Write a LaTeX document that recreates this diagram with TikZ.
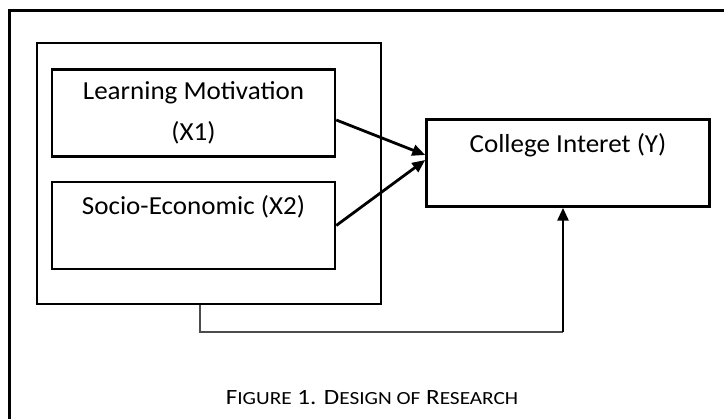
\documentclass[tikz,border=0pt]{standalone}
\usepackage{fontspec}
\setmainfont{Carlito}[FakeStretch=1.04]
\newfontfamily\captionfont{Carlito}[FakeStretch=1.15]
\usetikzlibrary{positioning, calc, arrows.meta}

\newcommand{\smallcap}[1]{{\fontsize{18.5}{22}\selectfont #1}}

\begin{document}
\begin{tikzpicture}[x=1pt, y=-1pt,
    varbox/.style={draw, line width=2.5pt, minimum width=283pt, minimum height=87pt,
        inner sep=0pt, align=center, font=\fontsize{26}{41}\selectfont},
    arrowline/.style={line width=2.8pt, -{Triangle[length=13pt, width=11pt]}},
    thinline/.style={line width=1.4pt, draw=black!70}]
    \useasboundingbox (0,0) rectangle (724,419);

    % --- Outer frame (cut off at right and bottom) ---
    \draw[line width=2.8pt] (9.5,419) |- (724,10.5);

    % --- Group box with the two variables ---
    \node[draw, line width=2.3pt, minimum width=344pt, minimum height=261pt] (grp) at (209,173.5) {};
    \node[varbox] (lm) at (193.5,113) {Learning Motivation\\(X1)};
    \node[varbox] (se) at (193.5,225.5) {Socio-Economic (X2)\\\mbox{}};

    % --- Dependent variable ---
    \node[varbox] (ci) at (568,163) {College Interet (Y)\\\mbox{}};

    % --- Arrows ---
    \draw[arrowline] ([yshift=-7pt]lm.east) -- ([yshift=8pt]ci.west);
    \draw[arrowline] (se.east) -- ([yshift=3pt]ci.west);

    % --- Joint path from the group box ---
    \coordinate (turn) at (563,332);
    \draw[thinline] ([xshift=-9pt]grp.south) |- (turn);
    \draw[arrowline] (turn) -- (turn |- ci.south);

    % --- Caption ---
    \node[font=\captionfont\fontsize{21.8}{26}\selectfont, anchor=base] (cap) at (372,405)
        {F\smallcap{IGURE} 1. D\smallcap{ESIGN OF} R\smallcap{ESEARCH}};
\end{tikzpicture}
\end{document}
